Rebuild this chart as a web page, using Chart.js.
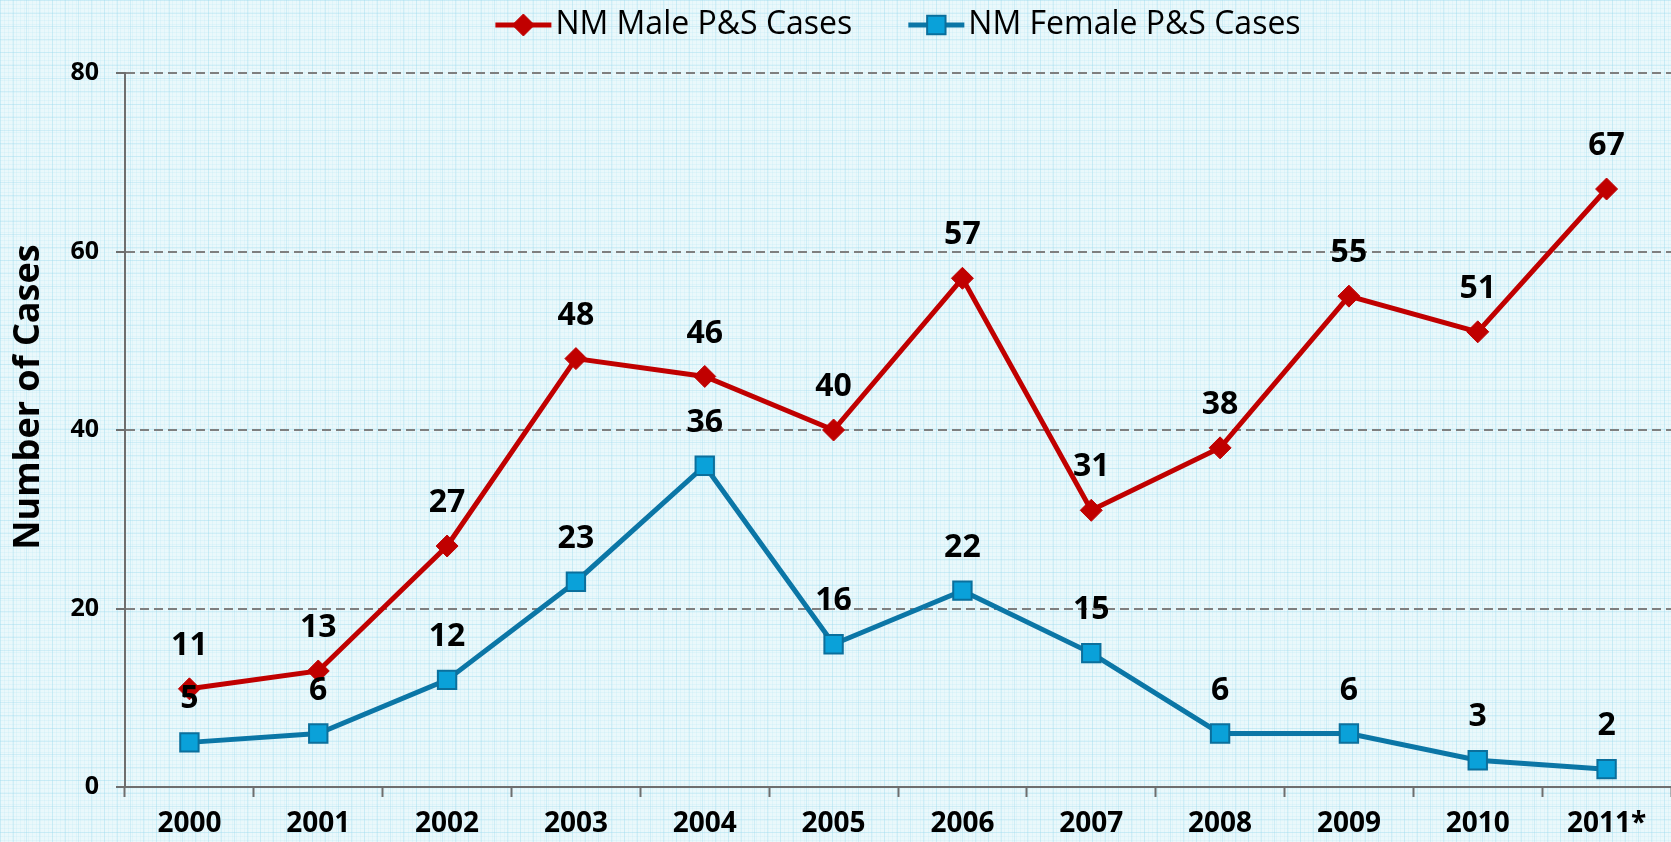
<!DOCTYPE html>
<html>
<head>
<meta charset="utf-8">
<title>NM P&amp;S Cases</title>
<script src="https://cdn.jsdelivr.net/npm/chart.js@4.4.1/dist/chart.umd.min.js"></script>
<style>
html, body { margin: 0; padding: 0; }
body {
  width: 1671px; height: 842px; overflow: hidden;
  background-color: #eaf8fb;
  background-image:
    linear-gradient(to right, rgba(160, 220, 238, 0.35) 1px, transparent 1px),
    linear-gradient(to bottom, rgba(160, 220, 238, 0.35) 1px, transparent 1px),
    linear-gradient(to right, rgba(190, 232, 244, 0.25) 1px, transparent 1px),
    linear-gradient(to bottom, rgba(190, 232, 244, 0.25) 1px, transparent 1px);
  background-size: 13px 13px, 13px 13px, 4px 4px, 4px 4px;
}
canvas { display: block; }
</style>
</head>
<body>
<canvas id="chart" width="1671" height="842"></canvas>
<script>
'use strict';

// データ
const years = ['2000', '2001', '2002', '2003', '2004', '2005', '2006', '2007', '2008', '2009', '2010', '2011*'];
const maleCases = [11, 13, 27, 48, 46, 40, 57, 31, 38, 55, 51, 67];
const femaleCases = [5, 6, 12, 23, 36, 16, 22, 15, 6, 6, 3, 2];
const yTicks = [0, 20, 40, 60, 80];
const yTitle = 'Number of Cases';

const FONT = '"Open Sans", "Noto Sans", sans-serif';

// 点の上に数値を描く
const valueLabels = {
  id: 'valueLabels',
  afterDatasetsDraw(chart) {
    const ctx = chart.ctx;
    ctx.save();
    ctx.font = 'bold 32px ' + FONT;
    ctx.fillStyle = '#000';
    ctx.textAlign = 'center';
    ctx.textBaseline = 'middle';
    chart.data.datasets.forEach((ds, i) => {
      chart.getDatasetMeta(i).data.forEach((pt, j) => {
        ctx.fillText(ds.data[j], pt.x, pt.y - 43);
      });
    });
    ctx.restore();
  }
};

// 縦軸のタイトル（少し上寄せ）
const axisTitle = {
  id: 'axisTitle',
  afterDraw(chart) {
    const ctx = chart.ctx;
    const area = chart.chartArea;
    ctx.save();
    ctx.translate(29, (area.top + area.bottom) / 2 - 33);
    ctx.rotate(-Math.PI / 2);
    ctx.font = 'bold 36px ' + FONT;
    ctx.fillStyle = '#000';
    ctx.textAlign = 'center';
    ctx.textBaseline = 'middle';
    ctx.fillText(yTitle, 0, 0);
    ctx.restore();
  }
};

// 線つきの凡例
const lineLegend = {
  id: 'lineLegend',
  afterDraw(chart) {
    const ctx = chart.ctx;
    const area = chart.chartArea;
    const markW = 56, gap = 4, spacing = 56, y = 25;
    ctx.save();
    ctx.font = '32px ' + FONT;
    const items = chart.data.datasets.map(ds => ({ ds, w: ctx.measureText(ds.label).width }));
    let total = 0;
    items.forEach(it => { total += markW + gap + it.w; });
    total += spacing * (items.length - 1);
    let x = (area.left + area.right) / 2 - total / 2;
    items.forEach(it => {
      const ds = it.ds;
      ctx.strokeStyle = ds.borderColor;
      ctx.lineWidth = ds.borderWidth;
      ctx.beginPath();
      ctx.moveTo(x, y);
      ctx.lineTo(x + markW, y);
      ctx.stroke();
      ctx.fillStyle = ds.pointBackgroundColor;
      ctx.strokeStyle = ds.pointBorderColor;
      ctx.lineWidth = ds.pointBorderWidth;
      Chart.helpers.drawPoint(ctx, { pointStyle: ds.pointStyle, radius: ds.pointRadius, borderWidth: ds.pointBorderWidth, rotation: 0 }, x + markW / 2, y);
      ctx.fillStyle = '#000';
      ctx.textAlign = 'left';
      ctx.textBaseline = 'middle';
      ctx.fillText(ds.label, x + markW + gap, y);
      x += markW + gap + it.w + spacing;
    });
    ctx.restore();
  }
};

const ctx = document.getElementById('chart');

new Chart(ctx, {
  type: 'line',
  data: {
    labels: years,
    datasets: [{
      label: 'NM Male P&S Cases',
      data: maleCases,
      borderColor: '#c00000',
      borderWidth: 5,
      pointStyle: 'rectRot',
      pointRadius: 11,
      pointBackgroundColor: '#c00000',
      pointBorderColor: '#c00000',
      pointBorderWidth: 1,
      tension: 0
    }, {
      label: 'NM Female P&S Cases',
      data: femaleCases,
      borderColor: '#0b76a6',
      borderWidth: 5,
      pointStyle: 'rect',
      pointRadius: 13,
      pointBackgroundColor: '#0aa1d9',
      pointBorderColor: '#0b6f9c',
      pointBorderWidth: 2,
      tension: 0
    }]
  },
  options: {
    responsive: false,
    animation: false,
    layout: { autoPadding: false, padding: { top: 73, right: 0, bottom: 0, left: 0 } },
    plugins: {
      legend: { display: false },
      tooltip: { enabled: false }
    },
    scales: {
      x: {
        offset: true,
        grid: { offset: true, drawOnChartArea: false, tickLength: 10, tickColor: '#6e6e6e', tickWidth: 2 },
        border: { color: '#6e6e6e', width: 2 },
        ticks: { color: '#000', padding: 10, font: { family: FONT, size: 28, weight: 'bold' } },
        afterFit(scale) {
          scale.height = 55;
          scale.paddingLeft = 0;
          scale.paddingRight = 0;
        }
      },
      y: {
        min: yTicks[0],
        max: yTicks[yTicks.length - 1],
        ticks: { stepSize: yTicks[1] - yTicks[0], color: '#000', padding: 17, font: { family: FONT, size: 25, weight: 'bold' } },
        grid: { color: '#7f7f7f', lineWidth: 2, tickLength: 9, tickColor: '#6e6e6e', tickWidth: 2 },
        border: { color: '#6e6e6e', width: 2, dash: [9, 5] },
        afterFit(scale) { scale.width = 125; }
      }
    }
  },
  plugins: [valueLabels, axisTitle, lineLegend]
});
</script>
</body>
</html>
